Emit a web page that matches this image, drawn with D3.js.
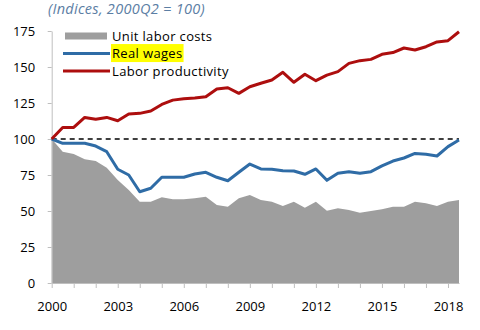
<!DOCTYPE html>
<html>
<head>
<meta charset="utf-8">
<script src="https://cdn.jsdelivr.net/npm/d3@7"></script>
<style>
    body { margin: 0; background: #fff; }
    svg text { font-family: 'Open Sans', 'Noto Sans', sans-serif; }
</style>
</head>
<body>
<div id="chart"></div>
<script>
'use strict';

// half-year periods, 2000H1 .. 2018H2
const periods = [2000, 2000.5, 2001, 2001.5, 2002, 2002.5, 2003, 2003.5, 2004, 2004.5,
    2005, 2005.5, 2006, 2006.5, 2007, 2007.5, 2008, 2008.5, 2009, 2009.5,
    2010, 2010.5, 2011, 2011.5, 2012, 2012.5, 2013, 2013.5, 2014, 2014.5,
    2015, 2015.5, 2016, 2016.5, 2017, 2017.5, 2018, 2018.5];

const unitLaborCosts = [100, 91.2, 89.6, 85.9, 84.7, 80, 71.5, 64.6, 56.5, 56.5,
    59.5, 58.1, 58.1, 58.8, 59.9, 54.2, 53, 58.8, 61.1, 57.6,
    56.5, 53.5, 56.5, 52.3, 56.5, 50.2, 51.9, 50.7, 48.8, 50,
    51.2, 53, 53, 56.5, 55.3, 53.5, 56.5, 57.6];

const realWages = [100, 97, 97, 97, 95.1, 91.2, 79, 75, 63.4, 65.8,
    73.4, 73.4, 73.4, 75.7, 76.9, 73.4, 71, 76.9, 82.6, 79.2,
    79, 78, 77.8, 75.5, 79.2, 71.3, 76.2, 77.3, 76.2, 77.3,
    81.3, 84.7, 86.8, 90, 89.4, 88.2, 94.7, 99.3];

const laborProductivity = [100, 108, 108, 115, 113.7, 115, 112.7, 117.4, 117.8, 119.4,
    124, 127, 128, 128.5, 129.4, 134.7, 135.6, 131.7, 136.3, 138.7,
    141, 146.3, 139.4, 145, 140.5, 144.4, 146.8, 152.5, 154.4, 155.3,
    158.8, 160, 163.2, 161.8, 164.1, 167.4, 168.3, 174.5];

const yTicks = [0, 25, 50, 75, 100, 125, 150, 175];
const xTicks = [2000, 2001, 2002, 2003, 2004, 2005, 2006, 2007, 2008, 2009,
    2010, 2011, 2012, 2013, 2014, 2015, 2016, 2017, 2018];
const xLabels = [2000, 2003, 2006, 2009, 2012, 2015, 2018];

const baseline = 100;
const title = '(Indices, 2000Q2 = 100)';

let width = 480;
let height = 330;
let margin = {top: 31, right: 21, bottom: 47, left: 51.7};

let colors = {
    ulc: '#9e9e9e',
    wages: '#2f6ca6',
    productivity: '#ad0e0e',
    axis: '#bfbfbf',
    title: '#5c7ea4'
};

let svg = d3.select('#chart').append('svg')
    .attr('width', width)
    .attr('height', height);

let x = d3.scaleLinear()
    .domain([periods[0], periods[periods.length - 1]])
    .range([margin.left, width - margin.right]);

let y = d3.scaleLinear()
    .domain([0, 175])
    .range([height - margin.bottom, margin.top]);

let rows = periods.map(function (p, i) {
    return {p: p, ulc: unitLaborCosts[i], wages: realWages[i], productivity: laborProductivity[i]};
});

// unit labor costs as a filled area
svg.append('path')
    .datum(rows)
    .attr('fill', colors.ulc)
    .attr('d', d3.area()
        .x(function (d) { return x(d.p); })
        .y0(y(0))
        .y1(function (d) { return y(d.ulc); }));

// axes
let yAxis = svg.append('g')
    .attr('transform', 'translate(' + margin.left + ',0)')
    .call(d3.axisLeft(y).tickValues(yTicks).tickSize(4).tickSizeOuter(0).tickPadding(12.5));

let xAxis = svg.append('g')
    .attr('transform', 'translate(0,' + y(0) + ')')
    .call(d3.axisBottom(x).tickValues(xTicks).tickSize(5).tickSizeOuter(0).tickPadding(14)
        .tickFormat(function (d) { return xLabels.indexOf(d) >= 0 ? d : ''; }));

[yAxis, xAxis].forEach(function (g) {
    g.selectAll('path, line').attr('stroke', colors.axis);
    g.selectAll('text')
        .attr('fill', '#000')
        .style('font-size', '13px');
});

// 100 reference line
svg.append('line')
    .attr('x1', x(periods[0]))
    .attr('x2', x(periods[periods.length - 1]))
    .attr('y1', y(baseline))
    .attr('y2', y(baseline))
    .attr('stroke', '#000')
    .attr('stroke-width', 1.6)
    .attr('stroke-dasharray', '5,4');

let lineFor = function (key) {
    return d3.line()
        .x(function (d) { return x(d.p); })
        .y(function (d) { return y(d[key]); });
};

svg.append('path')
    .datum(rows)
    .attr('fill', 'none')
    .attr('stroke', colors.wages)
    .attr('stroke-width', 3)
    .attr('stroke-linejoin', 'round')
    .attr('d', lineFor('wages'));

svg.append('path')
    .datum(rows)
    .attr('fill', 'none')
    .attr('stroke', colors.productivity)
    .attr('stroke-width', 3)
    .attr('stroke-linejoin', 'round')
    .attr('d', lineFor('productivity'));

// legend
let legend = svg.append('g').attr('transform', 'translate(65,36)');
let items = [
    {label: 'Unit labor costs', color: colors.ulc, type: 'area'},
    {label: 'Real wages', color: colors.wages, type: 'line', highlight: true},
    {label: 'Labor productivity', color: colors.productivity, type: 'line'}
];

items.forEach(function (item, i) {
    let row = legend.append('g').attr('transform', 'translate(0,' + (i * 17.5) + ')');
    if (item.type === 'area') {
        row.append('rect')
            .attr('x', 0).attr('y', -3.5)
            .attr('width', 42).attr('height', 7)
            .attr('fill', item.color);
    } else {
        row.append('line')
            .attr('x1', -2).attr('x2', 45)
            .attr('stroke', item.color)
            .attr('stroke-width', 3);
    }
    let text = row.append('text')
        .attr('x', 47)
        .attr('dy', '0.35em')
        .style('font-size', '13px')
        .style('letter-spacing', '0.35px')
        .attr('fill', '#000')
        .text(item.label);
    if (item.highlight) {
        let box = text.node().getBBox();
        row.insert('rect', 'text')
            .attr('x', box.x - 1).attr('y', box.y)
            .attr('width', box.width + 2).attr('height', box.height)
            .attr('fill', '#ffff00');
    }
});

svg.append('text')
    .attr('x', 48)
    .attr('y', 13.5)
    .attr('fill', colors.title)
    .style('font-size', '14.5px')
    .style('font-style', 'italic')
    .style('letter-spacing', '0.3px')
    .text(title);
</script>
</body>
</html>
